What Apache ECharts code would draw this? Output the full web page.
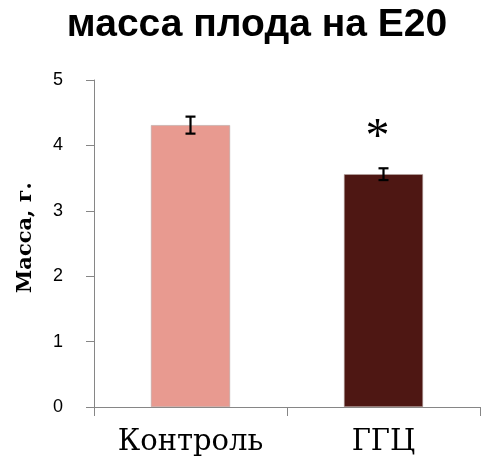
<!DOCTYPE html>
<html><head><meta charset="utf-8">
<script src="https://cdn.jsdelivr.net/npm/echarts@6/dist/echarts.min.js"></script>
<style>html,body{margin:0;padding:0;background:#fff}#c{width:482px;height:472px}</style>
</head><body><div id="c"></div>
<script>
const categories = ['Контроль', 'ГГЦ'];
const means = [4.31, 3.56];
const errors = [0.13, 0.09];
const marks = ['', '*'];
const barColors = ['#E89A90', '#4E1713'];
const yTicks = [0, 1, 2, 3, 4, 5];

const chart = echarts.init(document.getElementById('c'), null, {renderer: 'canvas'});
const axisGray = '#868686';
chart.setOption({
  animation: false,
  title: {
    text: 'масса плода на E20', left: 252, top: 1, textAlign: 'center',
    textStyle: {fontFamily: 'Liberation Sans', fontWeight: 'bold', fontSize: 39, color: '#000'}
  },
  grid: {left: 94, right: 2, top: 80, bottom: 65},
  xAxis: {
    type: 'category', data: categories,
    axisLine: {lineStyle: {color: axisGray, width: 1}},
    axisTick: {show: true, alignWithLabel: false, length: 9, lineStyle: {color: axisGray}},
    axisLabel: {fontFamily: 'DejaVu Serif', fontSize: 29, color: '#000', margin: 21}
  },
  yAxis: {
    type: 'value', min: yTicks[0], max: yTicks[yTicks.length - 1], interval: 1,
    name: 'Масса, г.', nameLocation: 'middle', nameGap: 58, nameRotate: 90,
    nameTextStyle: {fontFamily: 'DejaVu Serif', fontWeight: 'bold', fontSize: 21, color: '#000', padding: [0, 0, 0, 12]},
    axisLine: {show: true, lineStyle: {color: axisGray, width: 1}},
    axisTick: {show: true, length: 8, lineStyle: {color: axisGray}},
    axisLabel: {fontFamily: 'Liberation Sans', fontSize: 18, color: '#000', margin: 31},
    splitLine: {show: false}
  },
  series: [
    {
      type: 'bar', barWidth: '41%',
      data: means.map((v, i) => ({value: v, itemStyle: {color: barColors[i], borderColor: '#b9a9a6', borderWidth: 0.6}}))
    },
    {
      type: 'custom',
      data: means.map((v, i) => [i, v - errors[i], v + errors[i]]),
      renderItem: function (params, api) {
        const i = api.value(0);
        const lo = api.coord([i, api.value(1)]);
        const hi = api.coord([i, api.value(2)]);
        const hw = 5;
        const st = {stroke: '#000', lineWidth: 2.2};
        return {type: 'group', children: [
          {type: 'line', shape: {x1: lo[0], y1: lo[1], x2: hi[0], y2: hi[1]}, style: st},
          {type: 'line', shape: {x1: lo[0] - hw, y1: lo[1], x2: lo[0] + hw, y2: lo[1]}, style: st},
          {type: 'line', shape: {x1: hi[0] - hw, y1: hi[1], x2: hi[0] + hw, y2: hi[1]}, style: st}
        ]};
      },
      z: 5
    },
    {
      type: 'custom',
      data: means.map((v, i) => [i, v + errors[i]]),
      renderItem: function (params, api) {
        const i = api.value(0);
        const p = api.coord([i, api.value(1)]);
        return {type: 'text', x: p[0] - 6, y: p[1] - 30, style: {
          text: marks[i], fontFamily: 'Liberation Serif', fontSize: 48, fill: '#000',
          align: 'center', verticalAlign: 'middle'
        }};
      },
      z: 6
    }
  ]
});
</script></body></html>
